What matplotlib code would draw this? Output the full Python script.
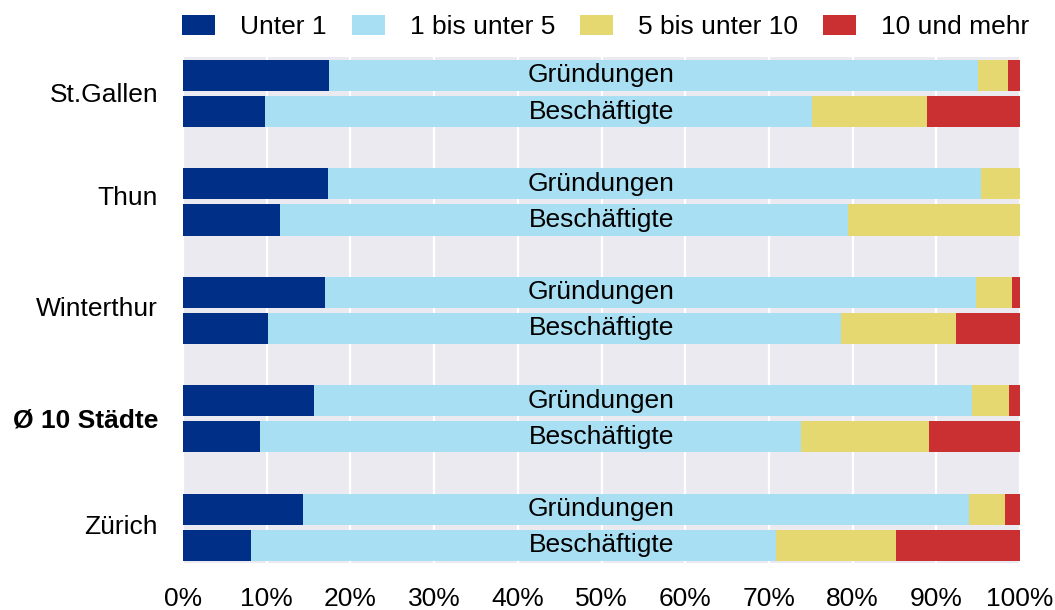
import matplotlib.pyplot as plt
import numpy as np

plt.rcParams['font.family'] = ['Liberation Sans', 'DejaVu Sans']

# Daten (Anteile in %)
staedte = ['St.Gallen', 'Thun', 'Winterthur', 'Ø 10 Städte', 'Zürich']
balken = ['Gründungen', 'Beschäftigte']
kategorien = ['Unter 1', '1 bis unter 5', '5 bis unter 10', '10 und mehr']
farben = ['#002F87', '#A8DFF2', '#E6D870', '#CA2F32']

# Gründungen
gr_unter_1 = [17.5, 17.3, 17.0, 15.7, 14.3]
gr_1_bis_5 = [77.5, 78.0, 77.7, 78.6, 79.6]
gr_5_bis_10 = [3.6, 4.7, 4.3, 4.4, 4.3]
gr_10_mehr = [1.4, 0.0, 1.0, 1.3, 1.8]

# Beschäftigte
be_unter_1 = [9.8, 11.6, 10.2, 9.2, 8.1]
be_1_bis_5 = [65.4, 67.8, 68.4, 64.6, 62.7]
be_5_bis_10 = [13.7, 20.6, 13.7, 15.3, 14.4]
be_10_mehr = [11.1, 0.0, 7.7, 10.9, 14.8]

gr = np.array([gr_unter_1, gr_1_bis_5, gr_5_bis_10, gr_10_mehr])
be = np.array([be_unter_1, be_1_bis_5, be_5_bis_10, be_10_mehr])

fig = plt.figure(figsize=(10.55, 6.1), dpi=100)
ax = fig.add_axes([183 / 1055, 1 - 563 / 610, 837 / 1055, 506 / 610])
ax.set_facecolor('#EAEAF0')

y_gr = np.arange(len(staedte)) * 3
y_be = y_gr + 1
h = 0.86

links_gr = np.zeros(len(staedte))
links_be = np.zeros(len(staedte))
for k in range(len(kategorien)):
    ax.barh(y_gr, gr[k], left=links_gr, height=h, color=farben[k], label=kategorien[k], zorder=2)
    ax.barh(y_be, be[k], left=links_be, height=h, color=farben[k], zorder=2)
    links_gr += gr[k]
    links_be += be[k]

for i in range(len(staedte)):
    ax.text(50, y_gr[i], balken[0], ha='center', va='center', fontsize=19, zorder=3)
    ax.text(50, y_be[i], balken[1], ha='center', va='center', fontsize=19, zorder=3)

ax.set_xlim(0, 100)
ax.set_ylim(y_be[-1] + 0.49, -0.51)
ax.set_xticks(np.arange(0, 101, 10))
ax.set_xticklabels([f'{v}%' for v in range(0, 101, 10)], fontsize=19)
# Beschriftungen sitzen im Original nicht ganz mittig
versatz = np.array([-0.03, -0.18, -0.12, -0.03, -0.07])
ax.set_yticks(y_gr + 0.5 + versatz)
ax.set_yticklabels(staedte, fontsize=19)
for lbl in ax.get_yticklabels():
    if lbl.get_text().startswith('Ø'):
        lbl.set_fontweight('bold')
ax.tick_params(axis='both', length=0)
ax.tick_params(axis='y', pad=18)
ax.tick_params(axis='x', pad=17)
ax.grid(axis='x', color='white', linewidth=1.6, zorder=1)
ax.set_axisbelow(True)
for s in ax.spines.values():
    s.set_visible(False)

fig.legend(loc='center left', bbox_to_anchor=(182 / 1055, 1 - 27 / 610), ncol=4,
           frameon=False, fontsize=19, handlelength=1.25, handleheight=0.83,
           handletextpad=0.95, columnspacing=0.95, borderpad=0, borderaxespad=0)

fig.savefig('out.png', dpi=100)
